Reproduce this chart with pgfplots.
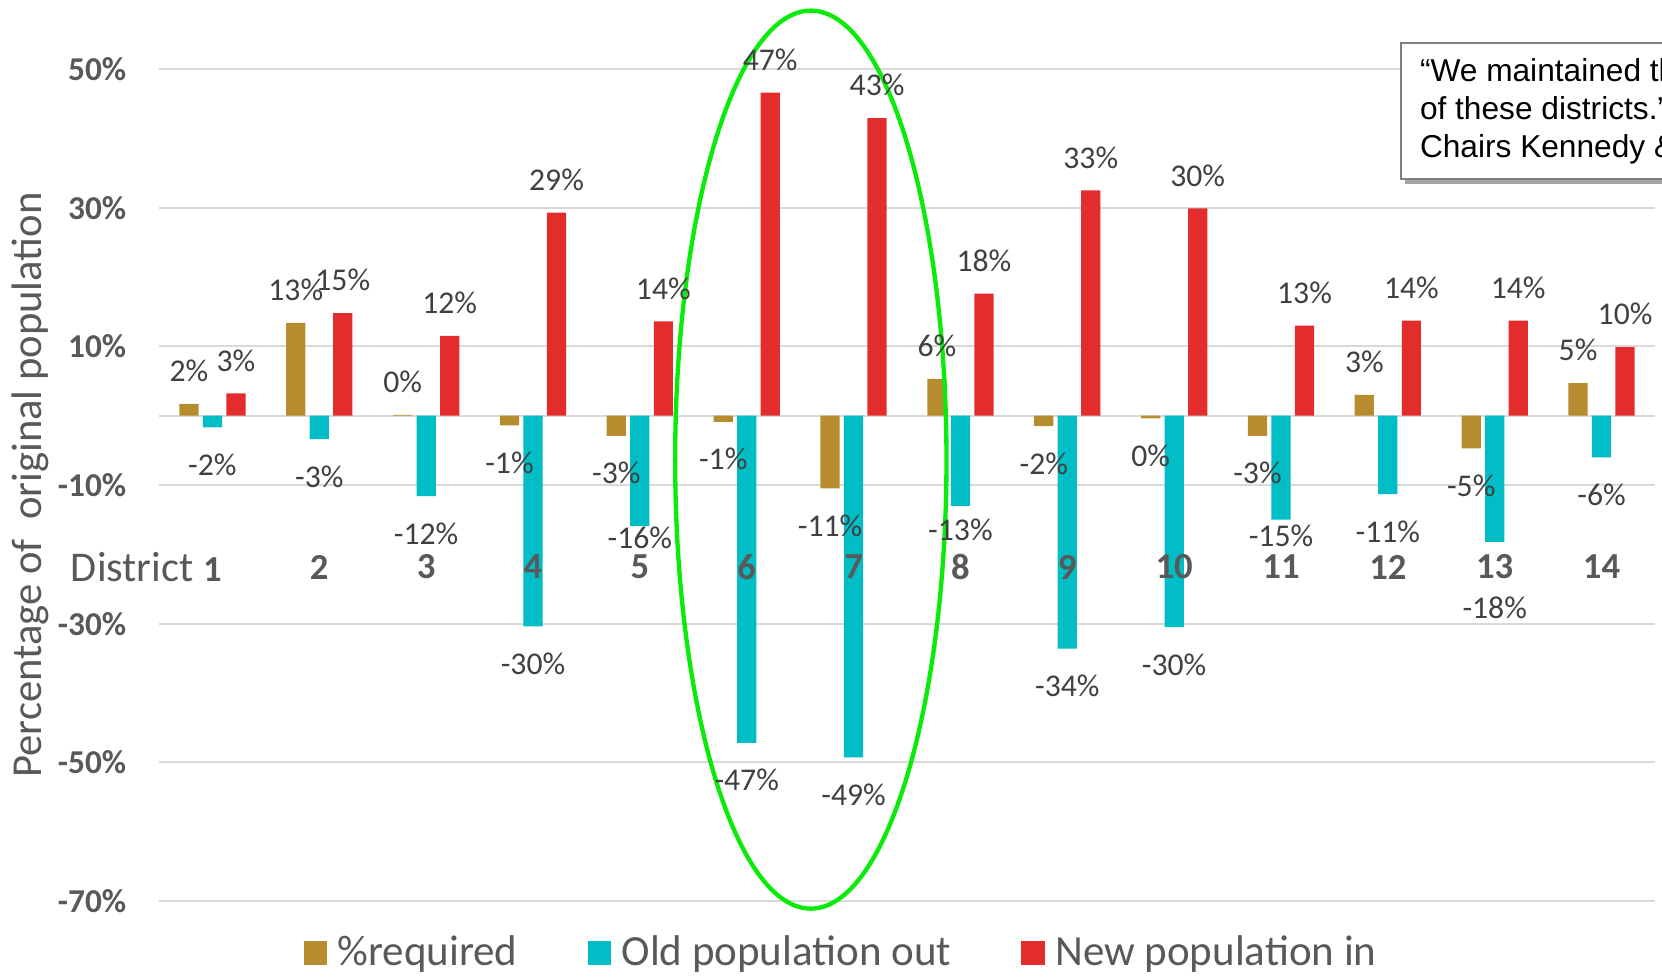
\documentclass[border=0pt]{standalone}
\usepackage{fontspec}
\setmainfont{Carlito}
\newfontfamily\arialfont{Liberation Sans}
\usepackage{pgfplots}
\pgfplotsset{compat=1.18}
\usetikzlibrary{shadows}

\definecolor{cReq}{RGB}{182,140,46}
\definecolor{cOut}{RGB}{0,189,198}
\definecolor{cIn}{RGB}{227,45,45}
\definecolor{gridc}{RGB}{217,217,217}
\definecolor{labc}{RGB}{64,64,64}
\definecolor{axc}{RGB}{89,89,89}
\definecolor{ovalc}{RGB}{10,235,10}

% negative labels sit a bit further from the bar end
\newcommand\neglab[1]{\rule{0pt}{7.8pt}#1\%}
% labels that Excel pushed around the district row
\newcommand\movlab[2]{\raisebox{#1}[0pt][0pt]{#2\%}}

% tick labels (district numbers) above the bars, grid below
\pgfplotsset{
    layers/labelsontop/.define layer set={axis background,axis grid,axis ticks,axis lines,pre main,main,axis tick labels,axis descriptions,axis foreground}{
        grid style={/pgfplots/on layer=axis grid},
        tick style={/pgfplots/on layer=axis ticks},
        axis line style={/pgfplots/on layer=axis lines},
        label style={/pgfplots/on layer=axis descriptions},
        legend style={/pgfplots/on layer=axis descriptions},
        title style={/pgfplots/on layer=axis descriptions},
        ticklabel style={/pgfplots/on layer=axis tick labels},
        axis background@ style={/pgfplots/on layer=axis background},
        3d box foreground style={/pgfplots/on layer=axis foreground},
    },
}

\begin{document}
\begin{tikzpicture}
\begin{axis}[
    set layers=labelsontop,
    at={(0,0)}, anchor=south west,
    width=448.8pt, height=249.6pt, scale only axis,
    clip=false,
    xmin=0.5, xmax=14.5, ymin=-70, ymax=50,
    axis line style={draw=none},
    major tick length=0pt,
    ytick={-70,-50,-30,-10,10,30,50},
    yticklabels={-70\%,-50\%,-30\%,-10\%,10\%,30\%,50\%},
    yticklabel style={font=\fontsize{10}{12}\selectfont\bfseries, text=axc, xshift=-6.3pt},
    extra y ticks={0}, extra y tick labels={},
    ymajorgrids, grid style={gridc, line width=0.6pt},
    xtick={1,...,14},
    xticklabels={{\makebox[0pt][r]{\fontsize{12.7}{15}\selectfont\mdseries District\ }1},2,3,4,5,6,7,8,9,10,11,12,13,14},
    xticklabel style={font=\fontsize{11}{13}\selectfont\bfseries, text=axc, anchor=center, yshift=100.2pt},
    ybar, bar width=0.18,
    nodes near coords,
    point meta=explicit symbolic,
    nodes near coords style={font=\fontsize{9.5}{11}\selectfont, text=labc, inner ysep=6.4pt, inner xsep=0pt},
    ylabel={Percentage of\ \ original population},
    ylabel style={at={(axis description cs:-0.0862,0.5)}, anchor=center, font=\fontsize{12.8}{15}\selectfont, text=axc},
    legend columns=3,
    legend style={at={(0.4575,-0.0625)}, anchor=center, draw=none, fill=none,
        font=\fontsize{12.9}{15}\selectfont, text=axc,
        /tikz/every odd column/.append style={column sep=1.2pt},
        /tikz/every even column/.append style={column sep=19pt}},
    legend image code/.code={\draw[#1,draw=none] (0pt,-3.5pt) rectangle (7pt,3.5pt);},
]
% %required, bars above zero
\addplot[fill=cReq, draw=none, bar shift=-0.22, nodes near coords style={anchor=south}] coordinates {
    (1,1.7) [2\%] (2,13.4) [13\%] (3,0.1) [0\%] (8,5.3) [6\%] (12,3.0) [3\%] (14,4.7) [5\%]
};
\addplot[fill=cOut, draw=none, bar shift=0, nodes near coords style={anchor=north}] coordinates {
    (1,-1.7) [\neglab{-2}] (2,-3.4) [\neglab{-3}] (3,-11.6) [\neglab{-12}] (4,-30.4) [\neglab{-30}]
    (5,-15.9) [\movlab{-0.15pt}{-16}] (6,-47.2) [\neglab{-47}] (7,-49.3) [\neglab{-49}]
    (8,-13.0) [\movlab{-3.95pt}{-13}] (9,-33.6) [\neglab{-34}] (10,-30.5) [\neglab{-30}]
    (11,-15.0) [\movlab{-1.38pt}{-15}] (12,-11.3) [\neglab{-11}] (13,-18.2) [\movlab{-16.3pt}{-18}]
    (14,-6.0) [\neglab{-6}]
};
\addplot[fill=cIn, draw=none, bar shift=0.22, nodes near coords style={anchor=south}] coordinates {
    (1,3.2) [3\%] (2,14.8) [15\%] (3,11.5) [12\%] (4,29.3) [29\%] (5,13.6) [14\%]
    (6,46.6) [47\%] (7,42.9) [43\%] (8,17.6) [18\%] (9,32.5) [33\%] (10,29.9) [30\%]
    (11,13.0) [13\%] (12,13.7) [14\%] (13,13.7) [14\%] (14,9.9) [10\%]
};
% %required, bars below zero
\addplot[fill=cReq, draw=none, bar shift=-0.22, forget plot, nodes near coords style={anchor=north}] coordinates {
    (4,-1.4) [\neglab{-1}] (5,-2.9) [\neglab{-3}] (6,-0.9) [\neglab{-1}] (7,-10.5) [\neglab{-11}]
    (9,-1.5) [\neglab{-2}] (10,-0.4) [\neglab{0}] (11,-2.9) [\neglab{-3}] (13,-4.7) [\neglab{-5}]
};
\legend{\%required, Old population out, New population in}
\draw[ovalc, line width=1.3pt] (axis cs:6.60,-6.34) ellipse [x radius=40.7pt, y radius=134.7pt];
\end{axis}
\node[anchor=north west, draw={rgb,255:red,128;green,128;blue,128}, line width=0.6pt, fill=white,
    drop shadow={shadow xshift=1.2pt, shadow yshift=-1.5pt, opacity=0.35, fill=black},
    align=left, inner xsep=5.7pt, inner ysep=4.6pt,
    font=\arialfont\fontsize{9.5}{11.4}\selectfont] at (372.3pt,257.7pt)
    {“We maintained the cores\\of these districts.”\\Chairs Kennedy \& Lewis};
\pgfresetboundingbox
\path[use as bounding box] (-47.7pt,-23.4pt) rectangle (450.9pt,270.3pt);
\end{tikzpicture}
\end{document}
